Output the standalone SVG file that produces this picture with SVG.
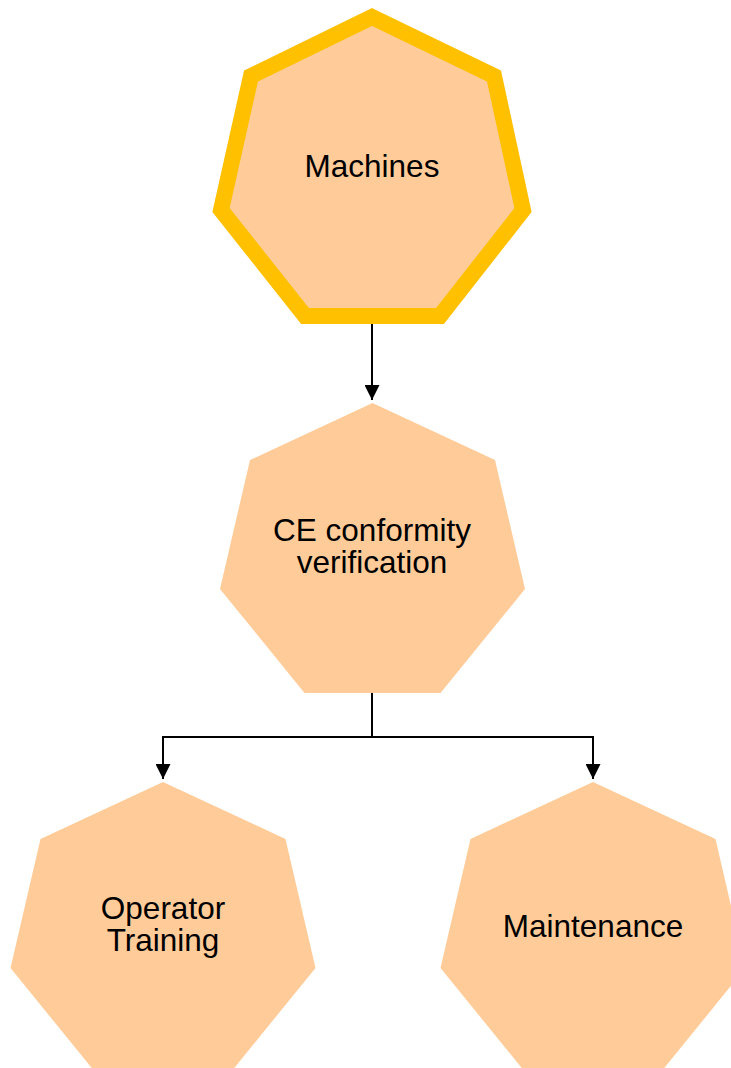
<svg xmlns="http://www.w3.org/2000/svg" width="731" height="1068" viewBox="0 0 731 1068">
<style>
.shape{fill:#FFCC99}
.hl{stroke:#FFC000;stroke-width:16;stroke-linejoin:miter}
.lbl{font-family:"Liberation Sans",Arial,sans-serif;font-size:31.5px;fill:#000;text-anchor:middle}
.conn{fill:none;stroke:#000;stroke-width:2}
</style>
<defs>
<marker id="ah" viewBox="0 0 10 10" refX="10" refY="5" markerWidth="7.5" markerHeight="7.5" orient="auto" markerUnits="strokeWidth">
<path d="M0,0 L10,5 L0,10 Z" fill="#000"/>
</marker>
</defs>
<rect width="731" height="1068" fill="#fff"/>
<g id="machines">
<polygon class="shape hl" points="372,17 494,76 523,210 440,316 305,316 221,210 251,76"/>
<text class="lbl" x="372" y="177">Machines</text>
</g>
<g id="ce-conformity">
<polygon class="shape" points="372.5,403 495,460 525,589 440.5,693 304.5,693 220,589 250,460"/>
<text class="lbl" x="372" y="541">CE conformity</text>
<text class="lbl" x="372" y="573">verification</text>
</g>
<g id="operator-training">
<polygon class="shape" points="163,782 285.5,839 315.5,968 231,1072 95,1072 10.5,968 40.5,839"/>
<text class="lbl" x="163" y="919">Operator</text>
<text class="lbl" x="163" y="951">Training</text>
</g>
<g id="maintenance">
<polygon class="shape" points="593,782 715.5,839 745.5,968 661,1072 525,1072 440.5,968 470.5,839"/>
<text class="lbl" x="593" y="937">Maintenance</text>
</g>
<g id="connectors">
<path class="conn" d="M372,324 V400" marker-end="url(#ah)"/>
<path class="conn" d="M372,693 V737 H163 V779" marker-end="url(#ah)"/>
<path class="conn" d="M372,737 H593 V779" marker-end="url(#ah)"/>
</g>
</svg>
